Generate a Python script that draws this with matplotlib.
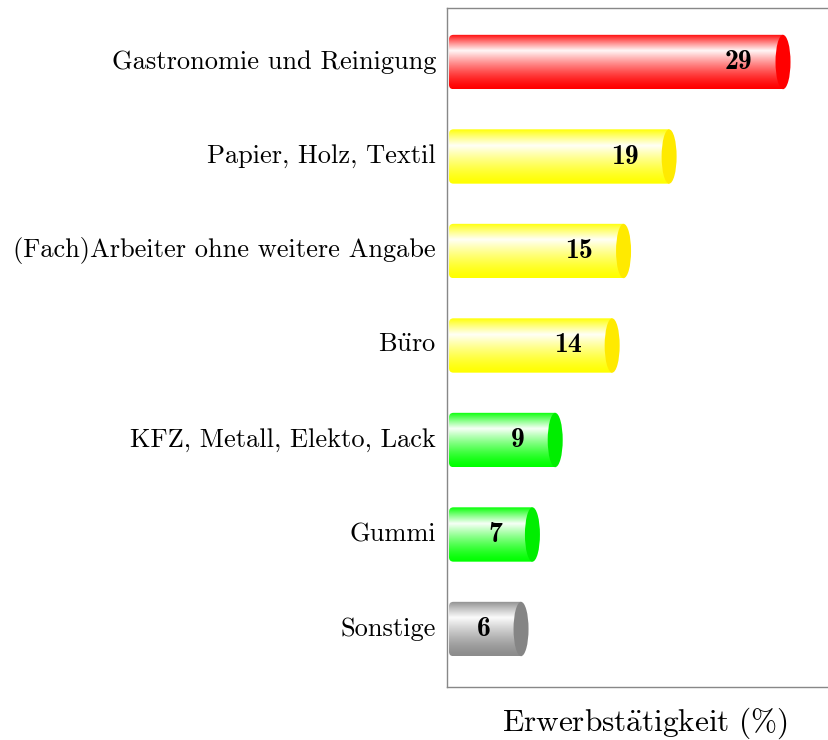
import numpy as np
import matplotlib
matplotlib.use("Agg")
import matplotlib.pyplot as plt
from matplotlib.patches import Ellipse, PathPatch
from matplotlib.path import Path
from matplotlib.colors import to_rgb

plt.rcParams['font.family'] = ['cmr10', 'DejaVu Serif']
plt.rcParams['mathtext.fontset'] = 'cm'
plt.rcParams['axes.unicode_minus'] = False
plt.rcParams['axes.formatter.use_mathtext'] = True

categories = ["Gastronomie und Reinigung", "Papier, Holz, Textil",
              "(Fach)Arbeiter ohne weitere Angabe", "Büro",
              "KFZ, Metall, Elekto, Lack", "Gummi", "Sonstige"]
values = [29, 19, 15, 14, 9, 7, 6]
body_colors = ["#ff0000", "#ffff00", "#ffff00", "#ffff00", "#00ff00", "#00ff00", "#8c8c8c"]
cap_colors = ["#ff0000", "#ffea00", "#ffea00", "#ffea00", "#00ee00", "#00ee00", "#858585"]
xlabel = "Erwerbstätigkeit (%)"


def tex(s):
    if any(c in s for c in "äöüÄÖÜ%"):
        s2 = s.replace("ä", r"\ddot{a}").replace("ü", r"\ddot{u}").replace("ö", r"\ddot{o}")
        s2 = s2.replace("%", r"\%").replace(" ", r"\ ")
        return r"$\mathrm{" + s2 + "}$"
    return s


W, H = 829, 740
fig = plt.figure(figsize=(W / 100, H / 100), dpi=100)
ax = fig.add_axes([447 / W, 53 / H, 400 / W, 679 / H])

px_per_unit = 11.39
xmin = -5.7 / px_per_unit
xmax = xmin + 400 / px_per_unit
ymin_top = -54 / 94.5
ymax_bot = (687 - 62) / 94.5

bar_h = 0.575
left0 = -3.7 / px_per_unit
cap_w = 2 * 7.5 / px_per_unit
rx = 4.5 / px_per_unit
ry = 4.5 / 94.5

t = np.linspace(0, 1, 200)
wpeak = 0.3
w = np.where(t < wpeak, (t / wpeak) ** 0.9, ((1 - t) / (1 - wpeak)) ** 1.4)
w = np.clip(w, 0, 1) * 0.97

for i, (v, bc, cc) in enumerate(zip(values, body_colors, cap_colors)):
    y0, y1 = i - bar_h / 2, i + bar_h / 2
    verts = [(left0 + rx, y0), (v, y0), (v, y1), (left0 + rx, y1),
             (left0, y1), (left0, y1 - ry), (left0, y0 + ry),
             (left0, y0), (left0 + rx, y0), (left0 + rx, y0)]
    codes = [Path.MOVETO, Path.LINETO, Path.LINETO, Path.LINETO,
             Path.CURVE3, Path.CURVE3, Path.LINETO,
             Path.CURVE3, Path.CURVE3, Path.CLOSEPOLY]
    path = Path(verts, codes)
    patch = PathPatch(path, facecolor='none', edgecolor='none')
    ax.add_patch(patch)
    base = np.array(to_rgb(bc))
    grad = base[None, :] * (1 - w[:, None]) + w[:, None]
    img = ax.imshow(grad[:, None, :], extent=[left0, v, y1, y0], aspect='auto',
                    interpolation='bilinear', zorder=2)
    img.set_clip_path(patch)
    ax.add_patch(Ellipse((v, i), cap_w, bar_h, facecolor=cc, edgecolor='none', zorder=3))
    ax.annotate(str(v), xy=(v, i), xytext=(-22, 0), textcoords='offset points',
                ha='right', va='center', fontsize=20, fontfamily='cmb10', zorder=4)

ax.set_xlim(xmin, xmax)
ax.set_ylim(ymax_bot, ymin_top)
ax.set_yticks(range(len(categories)))
ax.set_yticklabels([tex(c) for c in categories], fontsize=19)
for lbl in ax.get_yticklabels():
    lbl.set_va('center')
ax.set_xticks([])
ax.tick_params(axis='y', length=0, pad=8)
for s in ax.spines.values():
    s.set_color('#888888')
    s.set_linewidth(1.0)
ax.set_xlabel(tex(xlabel), fontsize=22.5)
ax.xaxis.set_label_coords((645 - 447) / 400, -(723 - 687) / 679)
ax.xaxis.label.set_va('center')

fig.savefig("out.png", dpi=100)
